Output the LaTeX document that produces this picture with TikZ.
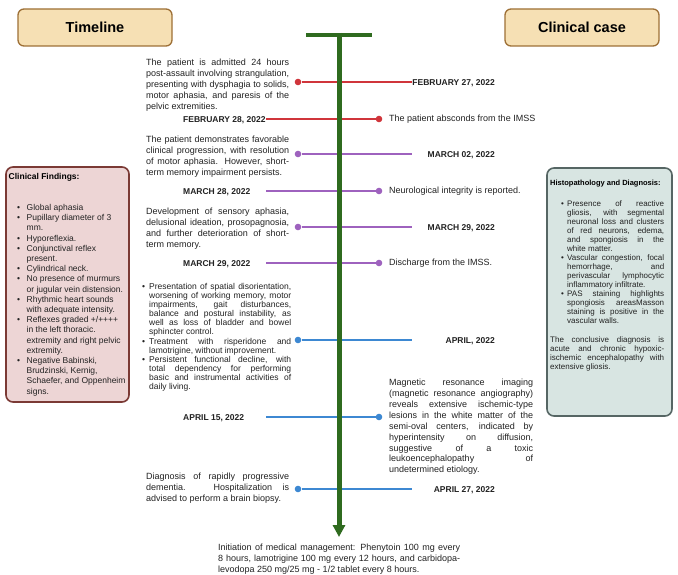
\documentclass[tikz,border=0pt]{standalone}
\usepackage{fontspec}
\setmainfont{Liberation Sans}
\usetikzlibrary{arrows.meta}

\definecolor{tanfill}{HTML}{F6E0B4}
\definecolor{tanedge}{HTML}{9E7036}
\definecolor{pinkfill}{HTML}{EDD5D5}
\definecolor{pinkedge}{HTML}{7B3A35}
\definecolor{sagefill}{HTML}{D8E5E2}
\definecolor{sageedge}{HTML}{566664}
\definecolor{stemgreen}{HTML}{2F6B1F}
\definecolor{evred}{HTML}{D0353B}
\definecolor{evpurple}{HTML}{9E62BE}
\definecolor{evblue}{HTML}{3D88D2}
\definecolor{ink}{HTML}{222222}

% line widths for justified text blocks
\newlength\jw
\newlength\bw
\newcommand\jj[1]{\makebox[\jw][s]{#1}}
\newcommand\jz[1]{\makebox[\jw][l]{#1}}
\newcommand\bj[1]{\makebox[\bw][l]{\textbullet}\makebox[\jw][s]{#1}}
\newcommand\bz[1]{\makebox[\bw][l]{\textbullet}\makebox[\jw][l]{#1}}
\newcommand\cj[1]{\makebox[\bw]{}\makebox[\jw][s]{#1}}
\newcommand\cz[1]{\makebox[\bw]{}\makebox[\jw][l]{#1}}

\begin{document}
\begin{tikzpicture}[x=1pt,y=-1pt,
  titlebox/.style={draw=tanedge, fill=tanfill, line width=1.3pt, rounded corners=6pt,
    minimum width=154pt, minimum height=37pt, inner sep=0pt, text=black,
    font=\bfseries\fontsize{14.5}{16}\selectfont},
  sidebox/.style={line width=1.6pt, rounded corners=7pt, inner sep=0pt},
  para/.style={anchor=north west, inner sep=0pt, align=left, text=ink,
    font=\fontsize{9}{10.9}\selectfont},
  jw/.style={execute at begin node={\setlength{\jw}{#1}}},
  bw/.style={execute at begin node={\setlength{\bw}{#1}}},
  date/.style={inner sep=0pt, text=ink, text height=6.1pt, text depth=0pt,
    font=\bfseries\fontsize{8.5}{10}\selectfont},
  side/.style={anchor=west, inner sep=0pt, text=ink, font=\fontsize{9}{11}\selectfont},
  evdot/.style={circle, fill=#1, inner sep=0pt, minimum size=6.6pt},
  evline/.style={draw=#1, line width=1.8pt},
  stemline/.style={draw=stemgreen, line width=5pt}
]
\fill[white] (0,0) rectangle (678,575);
\useasboundingbox (0,0) rectangle (678,575);

% column headers
\node[titlebox] (hdrL) at (95,27.5) {Timeline};
\node[titlebox] (hdrR) at (582,27.5) {Clinical case};

% clinical findings panel
\node[sidebox, draw=pinkedge, fill=pinkfill, minimum width=123pt, minimum height=235pt]
  (findings) at (67.5,284.5) {};
\node[anchor=west, inner sep=0pt, text=black, font=\bfseries\fontsize{8.5}{10}\selectfont]
  (findT) at (8.5,177) {Clinical Findings:};
\node[para, font=\fontsize{8.5}{10.2}\selectfont, jw=100pt, bw=9.5pt] (findL) at (17,204.2) {%
\bz{Global aphasia}\\
\bz{Pupillary diameter of 3}\\
\cz{mm.}\\
\bz{Hyporeflexia.}\\
\bz{Conjunctival reflex}\\
\cz{present.}\\
\bz{Cylindrical neck.}\\
\bz{No presence of murmurs}\\
\cz{or jugular vein distension.}\\
\bz{Rhythmic heart sounds}\\
\cz{with adequate intensity.}\\
\bz{Reflexes graded +/++++}\\
\cz{in the left thoracic.}\\
\cz{extremity and right pelvic}\\
\cz{extremity.}\\
\bz{Negative Babinski,}\\
\cz{Brudzinski, Kernig,}\\
\cz{Schaefer, and Oppenheim}\\
\cz{signs.}};

% histopathology panel
\node[sidebox, draw=sageedge, fill=sagefill, minimum width=125pt, minimum height=248pt]
  (histo) at (609.5,292) {};
\node[anchor=west, inner sep=0pt, text=black, font=\bfseries\fontsize{7.5}{9}\selectfont]
  (histoT) at (550,184) {Histopathology and Diagnosis:};
\node[para, font=\fontsize{8}{9}\selectfont, jw=97pt, bw=6pt] (histoL) at (561,200.3) {%
\bj{Presence of reactive}\\
\cj{gliosis, with segmental}\\
\cj{neuronal loss and clusters}\\
\cj{of red neurons, edema,}\\
\cj{and spongiosis in the}\\
\cz{white matter.}\\
\bj{Vascular congestion, focal}\\
\cj{hemorrhage, and}\\
\cj{perivascular lymphocytic}\\
\cz{inflammatory infiltrate.}\\
\bj{PAS staining highlights}\\
\cj{spongiosis areasMasson}\\
\cj{staining is positive in the}\\
\cz{vascular walls.}};
\node[para, font=\fontsize{8}{9}\selectfont, jw=114pt] (histoC) at (550,336.3) {%
\jj{The conclusive diagnosis is}\\
\jj{acute and chronic hypoxic-}\\
\jj{ischemic encephalopathy with}\\
\jz{extensive gliosis.}};

% ---- events ----
% February 27
\node[para, jw=143pt] (p1) at (146,58.9) {%
\jj{The patient is admitted 24 hours}\\
\jj{post-assault involving strangulation,}\\
\jj{presenting with dysphagia to solids,}\\
\jj{motor aphasia, and paresis of the}\\
\jz{pelvic extremities.}};
\node[evdot=evred] (d1) at (298,82) {};
\coordinate (e1) at (412,82);
\draw[evline=evred] (d1) -- (e1);
\node[date, anchor=east] (t1) at (495,82) {FEBRUARY 27, 2022};

% February 28
\node[date, anchor=west] (t2) at (183,119) {FEBRUARY 28, 2022};
\coordinate (s2) at (266,119);
\node[evdot=evred] (d2) at (379,119) {};
\draw[evline=evred] (s2) -- (d2);
\node[side] (n2) at (389,119) {The patient absconds from the IMSS};

% March 02
\node[para, jw=143pt] (p3) at (146,135.9) {%
\jj{The patient demonstrates favorable}\\
\jj{clinical progression, with resolution}\\
\jj{of motor aphasia. However, short-}\\
\jz{term memory impairment persists.}};
\node[evdot=evpurple] (d3) at (298,154) {};
\coordinate (e3) at (412,154);
\draw[evline=evpurple] (d3) -- (e3);
\node[date, anchor=east] (t3) at (495,154) {MARCH 02, 2022};

% March 28
\node[date, anchor=west] (t4) at (183,191) {MARCH 28, 2022};
\coordinate (s4) at (266,191);
\node[evdot=evpurple] (d4) at (379,191) {};
\draw[evline=evpurple] (s4) -- (d4);
\node[side] (n4) at (389,191) {Neurological integrity is reported.};

% March 29 (aphasia)
\node[para, jw=143pt] (p5) at (146,207.9) {%
\jj{Development of sensory aphasia,}\\
\jj{delusional ideation, prosopagnosia,}\\
\jj{and further deterioration of short-}\\
\jz{term memory.}};
\node[evdot=evpurple] (d5) at (298,227) {};
\coordinate (e5) at (412,227);
\draw[evline=evpurple] (d5) -- (e5);
\node[date, anchor=east] (t5) at (495,227) {MARCH 29, 2022};

% March 29 (discharge)
\node[date, anchor=west] (t6) at (183,263) {MARCH 29, 2022};
\coordinate (s6) at (266,263);
\node[evdot=evpurple] (d6) at (379,263) {};
\draw[evline=evpurple] (s6) -- (d6);
\node[side] (n6) at (389,263) {Discharge from the IMSS.};

% April
\node[para, font=\fontsize{8.5}{9.1}\selectfont, jw=142pt, bw=7pt] (p7) at (142,283.1) {%
\bj{Presentation of spatial disorientation,}\\
\cj{worsening of working memory, motor}\\
\cj{impairments, gait disturbances,}\\
\cj{balance and postural instability, as}\\
\cj{well as loss of bladder and bowel}\\
\cz{sphincter control.}\\
\bj{Treatment with risperidone and}\\
\cz{lamotrigine, without improvement.}\\
\bj{Persistent functional decline, with}\\
\cj{total dependency for performing}\\
\cj{basic and instrumental activities of}\\
\cz{daily living.}};
\node[evdot=evblue] (d7) at (298,340) {};
\coordinate (e7) at (412,340);
\draw[evline=evblue] (d7) -- (e7);
\node[date, anchor=east] (t7) at (495,340) {APRIL, 2022};

% April 15
\node[para, jw=144pt] (n8) at (389,378.9) {%
\jj{Magnetic resonance imaging}\\
\jj{(magnetic resonance angiography)}\\
\jj{reveals extensive ischemic-type}\\
\jj{lesions in the white matter of the}\\
\jj{semi-oval centers, indicated by}\\
\jj{hyperintensity on diffusion,}\\
\jj{suggestive of a toxic}\\
\jj{leukoencephalopathy of}\\
\jz{undetermined etiology.}};
\node[date, anchor=west] (t8) at (183,417) {APRIL 15, 2022};
\coordinate (s8) at (266,417);
\node[evdot=evblue] (d8) at (379,417) {};
\draw[evline=evblue] (s8) -- (d8);

% April 27
\node[para, jw=143pt] (p9) at (146,472.9) {%
\jj{Diagnosis of rapidly progressive}\\
\jj{dementia. Hospitalization is}\\
\jz{advised to perform a brain biopsy.}};
\node[evdot=evblue] (d9) at (298,489) {};
\coordinate (e9) at (412,489);
\draw[evline=evblue] (d9) -- (e9);
\node[date, anchor=east] (t9) at (495,489) {APRIL 27, 2022};

% time axis
\coordinate (barL) at (306,35);
\coordinate (barR) at (372,35);
\coordinate (axTop) at (339,33);
\coordinate (axEnd) at (339,537);
\draw[stemline, line width=4.6pt] (barL) -- (barR);
\draw[stemline, -{Triangle[width=12pt,length=12pt]}] (axTop) -- (axEnd);

% outcome
\node[para, jw=242pt] (p10) at (218,543.9) {%
\jj{Initiation of medical management: Phenytoin 100 mg every}\\
\jj{8 hours, lamotrigine 100 mg every 12 hours, and carbidopa-}\\
\jz{levodopa 250 mg/25 mg - 1/2 tablet every 8 hours.}};
\end{tikzpicture}
\end{document}
